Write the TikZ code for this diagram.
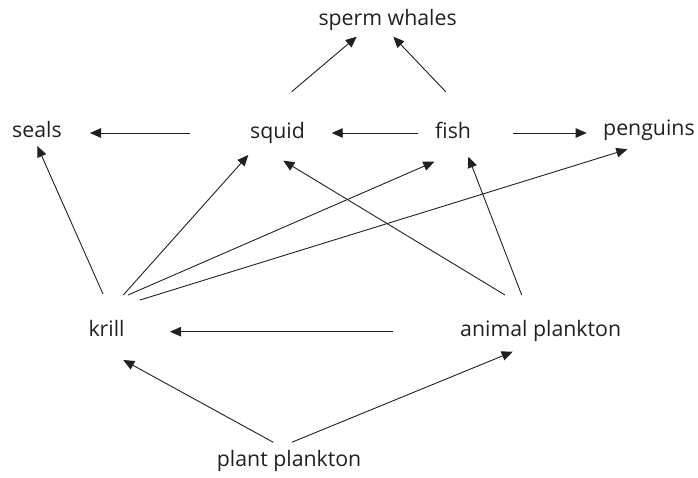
\documentclass[tikz,border=0pt]{standalone}
\usepackage{fontspec}
\setmainfont{Open Sans}
\usetikzlibrary{arrows.meta,calc}
\definecolor{ink}{HTML}{231F20}
\begin{document}
\begin{tikzpicture}[x=1pt,y=-1pt,
  lbl/.style={anchor=base west,inner sep=0pt,font=\fontsize{21.3}{24}\selectfont,text=ink},
  arr/.style={line width=0.9pt,-{Triangle[length=11pt,width=9.5pt]},ink}]
\useasboundingbox (0,0) rectangle (698,477);
\node[lbl] (whales) at (318.3,25) {sperm whales};
\node[lbl] (seals) at (12,137.5) {seals};
\node[lbl] (squid) at (250,138) {squid};
\node[lbl] (fish) at (435,138) {fish};
\node[lbl] (penguins) at (603,135) {penguins};
\node[lbl] (krill) at (88.3,336) {krill};
\node[lbl] (animal) at (460,336) {animal plankton};
\node[lbl] (plant) at (216.7,466.7) {plant plankton};
% connectors, offsets from each label's base west anchor
\draw[arr] ($(squid.base west)+(41.7,-46.3)$) -- ($(whales.base west)+(38.4,11.7)$);
\draw[arr] ($(fish.base west)+(10.7,-46.3)$) -- ($(whales.base west)+(75,11.7)$);
\draw[arr] ($(fish.base west)+(-16.7,-5)$) -- ($(squid.base west)+(81.7,-5)$);
\draw[arr] ($(squid.base west)+(-60,-5)$) -- ($(seals.base west)+(78,-4.5)$);
\draw[arr] ($(fish.base west)+(78.3,-5)$) -- ($(penguins.base west)+(-16.3,-2)$);
\draw[arr] ($(animal.base west)+(-67.3,-4.3)$) -- ($(krill.base west)+(81.7,-4.3)$);
\draw[arr] ($(plant.base west)+(56.6,-24.4)$) -- ($(krill.base west)+(35,24)$);
\draw[arr] ($(plant.base west)+(75,-24.4)$) -- ($(animal.base west)+(52.7,15.7)$);
\draw[arr] ($(krill.base west)+(14.7,-42)$) -- ($(seals.base west)+(25.3,8.5)$);
\draw[arr] ($(krill.base west)+(35,-41)$) -- ($(squid.base west)+(-1.7,17)$);
\draw[arr] ($(krill.base west)+(39.7,-41)$) -- ($(fish.base west)+(-0.7,23.7)$);
\draw[arr] ($(krill.base west)+(51.7,-36)$) -- ($(penguins.base west)+(24.3,14.3)$);
\draw[arr] ($(animal.base west)+(45,-41)$) -- ($(squid.base west)+(33.3,22.7)$);
\draw[arr] ($(animal.base west)+(61.7,-41)$) -- ($(fish.base west)+(33.3,18.7)$);
\end{tikzpicture}
\end{document}
